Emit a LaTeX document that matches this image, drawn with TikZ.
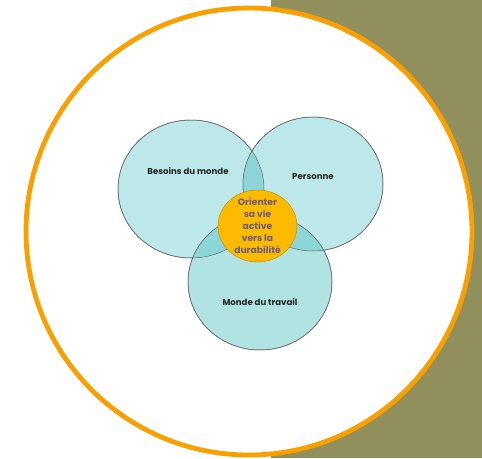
\documentclass[tikz,border=0pt]{standalone}
\usepackage{fontspec}
\setmainfont{Poppins}
\usepackage{xcolor}
\usepackage{tikz}
\usetikzlibrary{positioning}
\usetikzlibrary{shapes.geometric}
\usetikzlibrary{calc}

\definecolor{olive}{HTML}{918F5C}
\definecolor{ring}{HTML}{F9A000}
\definecolor{cyanlight}{HTML}{BDE8EA}
\definecolor{cyanmid}{HTML}{B1E3E3}
\definecolor{cyandark}{HTML}{8CD6D8}
\definecolor{coreorange}{HTML}{FDBB00}
\definecolor{coretext}{HTML}{6B5A88}

\tikzset{
  sphere/.style = {ellipse, draw=black!60, line width=0.5pt},
  lbl/.style = {font=\fontsize{8.6}{10}\selectfont\bfseries, text=black!85},
}

\begin{document}
\begin{tikzpicture}[x=1pt, y=-1pt]
\useasboundingbox (0,0) rectangle (482,458);
\fill[olive] (271,0) rectangle (482,458);
\draw[ring, fill=white, line width=4.8pt] (249,231.5) ellipse (223 and 223.5);

\node[sphere, fill=cyanlight, minimum width=146pt, minimum height=138pt] (besoins) at (191,189) {};
\node[sphere, fill=cyanlight, minimum width=140pt, minimum height=134pt] (personne) at (313,184) {};
\node[sphere, fill=cyanmid, minimum width=144pt, minimum height=136pt] (travail) at (260,282) {};

% overlaps
\begin{scope}
  \clip (besoins.center) ellipse (73 and 69);
  \fill[cyandark] (personne.center) ellipse (70 and 67);
  \fill[cyandark] (travail.center) ellipse (72 and 68);
\end{scope}
\begin{scope}
  \clip (personne.center) ellipse (70 and 67);
  \fill[cyandark] (travail.center) ellipse (72 and 68);
\end{scope}
\draw[black!60, line width=0.5pt] (besoins.center) ellipse (73 and 69);
\draw[black!60, line width=0.5pt] (personne.center) ellipse (70 and 67);
\draw[black!60, line width=0.5pt] (travail.center) ellipse (72 and 68);

\node[ellipse, fill=coreorange, draw=ring!80!black, line width=0.4pt,
  minimum width=79pt, minimum height=72pt] (core) at (257.5,226) {};
\node[align=center, text=coretext, font=\fontsize{9.2}{12}\selectfont\bfseries]
  (coretxt) at (core) {Orienter\\sa vie\\active\\vers la\\durabilité};

\node[lbl] (lblbesoins) at ($(besoins)+(-3,-18)$) {Besoins du monde};
\node[lbl] (lblpersonne) at ($(personne)+(0,-7)$) {Personne};
\node[lbl] (lbltravail) at ($(travail)+(0,20)$) {Monde du travail};
\end{tikzpicture}
\end{document}
